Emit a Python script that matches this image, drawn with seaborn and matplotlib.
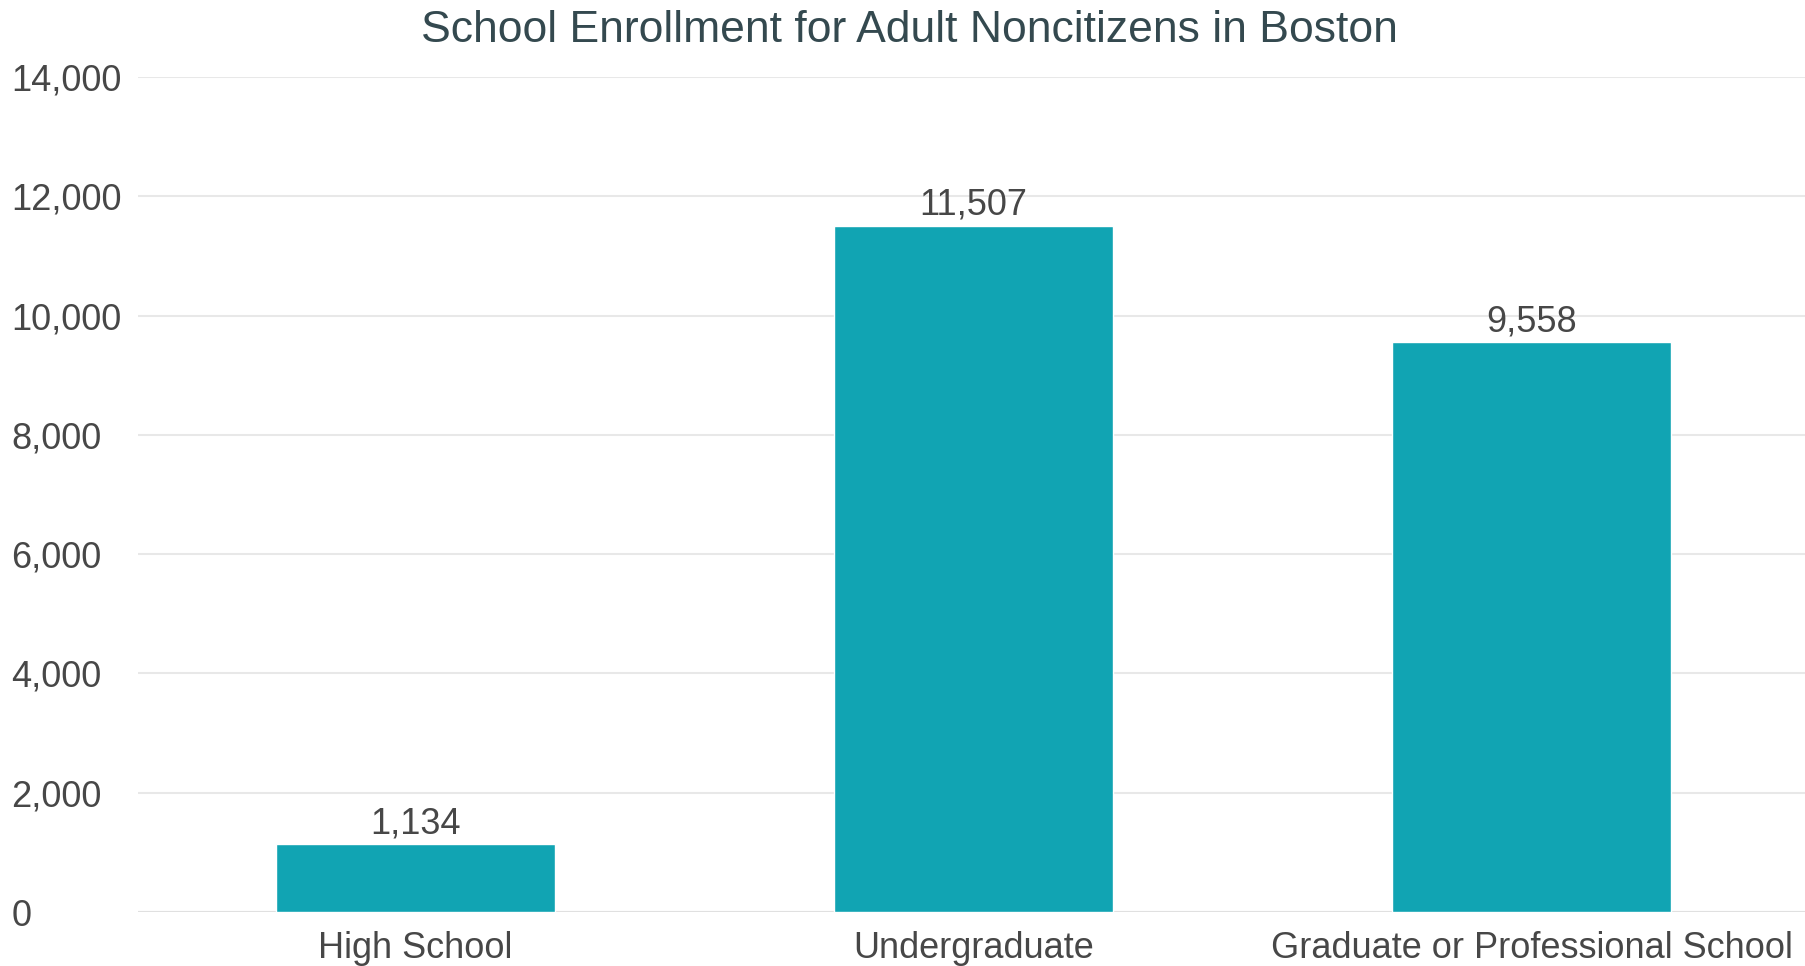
import matplotlib
matplotlib.use("Agg")
import matplotlib.pyplot as plt
import pandas as pd
import seaborn as sns

categories = ["High School", "Undergraduate", "Graduate or Professional School"]
enrollment = [1134, 11507, 9558]
y_ticks = [0, 2000, 4000, 6000, 8000, 10000, 12000, 14000]

BAR_COLOR = "#11a4b3"
TEXT_COLOR = "#474747"
TITLE_COLOR = "#34494f"

sns.set_theme(style="white")
plt.rcParams["font.family"] = ["Liberation Sans", "DejaVu Sans"]

df = pd.DataFrame({"level": categories, "count": enrollment})

fig = plt.figure(figsize=(18.05, 9.66), dpi=100)
ax = fig.add_axes([138 / 1805, 1 - 912 / 966, 1 - 138 / 1805, 835 / 966])

sns.barplot(data=df, x="level", y="count", color=BAR_COLOR, width=0.5,
            saturation=1, ax=ax, zorder=3)

ax.set_ylim(0, 14000)
ax.set_xlim(-0.497, 2.49)
ax.set_yticks(y_ticks)
ax.set_yticklabels([f"{v:,}" for v in y_ticks])
ax.yaxis.grid(True, color="#e8e8e8", linewidth=1.5, zorder=0)
ax.set_axisbelow(True)
for s in ax.spines.values():
    s.set_visible(False)
ax.axhline(0, color="#e0e0e0", linewidth=1.5, zorder=1)

ax.tick_params(axis="y", length=0, pad=91, labelsize=26, labelcolor=TEXT_COLOR)
for lbl in ax.get_yticklabels():
    lbl.set_horizontalalignment("left")
ax.tick_params(axis="x", length=0, pad=14, labelsize=26, labelcolor=TEXT_COLOR)
ax.set_xlabel("")
ax.set_ylabel("")

for i, v in enumerate(enrollment):
    ax.annotate(f"{v:,}", (i, v), xytext=(0, 2), textcoords="offset points",
                ha="center", va="bottom", fontsize=26, color=TEXT_COLOR)

fig.text(909 / 1805, 1 - 31 / 966, "School Enrollment for Adult Noncitizens in Boston",
         ha="center", va="center", fontsize=32, color=TITLE_COLOR)

fig.savefig("out.png", dpi=100)
